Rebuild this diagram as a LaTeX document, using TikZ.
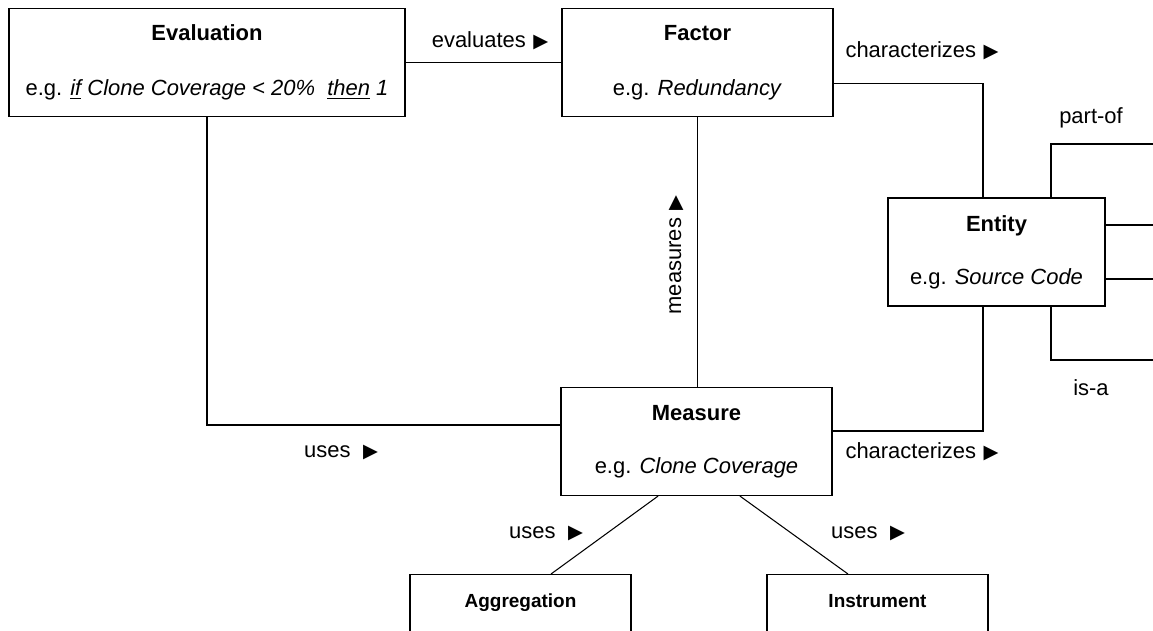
\documentclass[tikz,border=0pt]{standalone}
\usepackage{fontspec}
\setmainfont{Liberation Sans}
\newfontfamily\symfont{DejaVu Sans}
\newcommand{\dirmark}{{\symfont\fontsize{11}{11}\selectfont ▶}}
\usetikzlibrary{shapes}

\tikzset{
  concept/.style={shape=rectangle,draw=black,align=center,line width=0.7pt,inner sep=0pt,
    minimum width=#1,minimum height=2.16cm,font=\fontsize{12.5}{15}\selectfont},
  small concept/.style={font=\fontsize{10.8}{13}\selectfont,anchor=north},
  rolename/.style={inner sep=0pt,font=\fontsize{12.5}{15}\selectfont},
  link/.style={draw=black,line width=0.6pt}
}

\begin{document}
\begin{tikzpicture}[x=0.02cm,y=-0.02cm]
\useasboundingbox (0,0) rectangle (1153,630);
\clip (0,0) rectangle (1153,630);

\node[concept=7.92cm] (0) at (207,62.5) {\textbf{Evaluation}\\[16pt]e.g. \textit{\underline{if} Clone Coverage < 20\%\ \ \underline{then} 1}};
\node[concept=5.42cm] (1) at (697.5,62.5) {\textbf{Factor}\\[16pt]e.g. \textit{Redundancy}};
\node[concept=4.34cm] (2) at (996.5,252) {\textbf{Entity}\\[15pt]e.g. \textit{Source Code}};
\node[concept=5.42cm] (3) at (696.5,441.5) {\textbf{Measure}\\[15pt]e.g. \textit{Clone Coverage}};
\node[concept=4.42cm,small concept] (4) at (520.5,574) {\textbf{Aggregation}\\[15pt]\strut};
\node[concept=4.42cm,small concept] (5) at (877.5,574) {\textbf{Instrument}\\[15pt]\strut};

\coordinate (partof) at (1160,144);
\coordinate (isa) at (1160,360);
\coordinate (upper) at (1160,225);
\coordinate (lower) at (1160,279);

\path [link] (0.east) -- (1.west);
\path [link] (0.south) |- ([yshift=0.33cm]3.west);
\path [link] (1.south) -- (1.south |- 3.north);
\path [link] ([yshift=-0.42cm]1.east) -| ([xshift=-0.27cm]2.north);
\path [link] ([xshift=-0.27cm]2.south) |- ([yshift=0.21cm]3.east);
\path [link] ([xshift=1.09cm]2.north) |- (partof);
\path [link] ([xshift=1.09cm]2.south) |- (isa);
\path [link] (2.east |- upper) -- (upper);
\path [link] (2.east |- lower) -- (lower);
\path [link] ([xshift=-0.77cm]3.south) -- ([xshift=0.61cm]4.north);
\path [link] ([xshift=0.87cm]3.south) -- ([xshift=-0.59cm]5.north);

\node[rolename] (6) at (490,41) {evaluates\hspace{0.15cm}\dirmark};
\node[rolename] (7) at (922,51) {characterizes\hspace{0.15cm}\dirmark};
\node[rolename,rotate=90] (8) at (676,255) {measures\hspace{0.15cm}\dirmark};
\node[rolename] (9) at (1091,118) {part-of};
\node[rolename] (10) at (1091,388) {is-a};
\node[rolename] (11) at (341,452) {uses\hspace{0.25cm}\dirmark};
\node[rolename] (12) at (922,452) {characterizes\hspace{0.15cm}\dirmark};
\node[rolename] (13) at (546,533) {uses\hspace{0.25cm}\dirmark};
\node[rolename] (14) at (868,533) {uses\hspace{0.25cm}\dirmark};
\end{tikzpicture}
\end{document}
